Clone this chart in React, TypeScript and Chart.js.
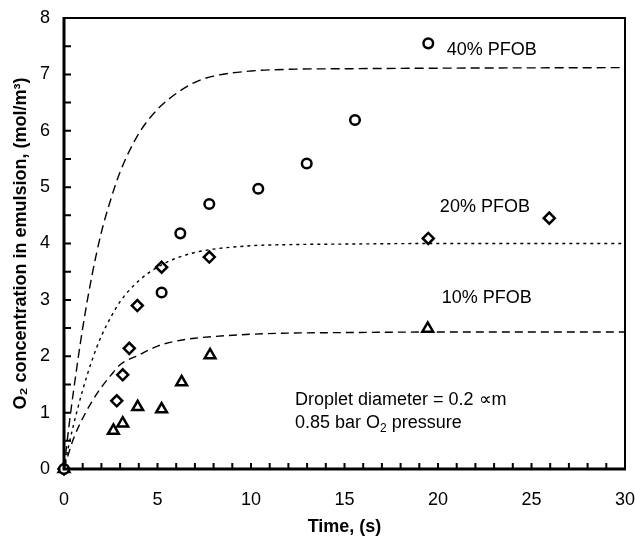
import React, { useEffect, useRef } from 'react';
import { Chart, registerables } from 'chart.js';

Chart.register(...registerables);

// Measured data (time in s, concentration in mol/m3)
const pfob40Time = [0, 5.22, 6.22, 7.77, 10.39, 12.98, 15.56, 19.48];
const pfob40Conc = [0, 3.13, 4.18, 4.70, 4.97, 5.42, 6.19, 7.55];
const pfob20Time = [0, 2.82, 3.14, 3.49, 3.92, 5.22, 7.77, 19.48, 25.95];
const pfob20Conc = [0, 1.21, 1.67, 2.14, 2.90, 3.58, 3.76, 4.09, 4.45];
const pfob10Time = [0, 2.64, 3.14, 3.94, 5.22, 6.29, 7.81, 19.45];
const pfob10Conc = [0, 0.68, 0.81, 1.10, 1.06, 1.54, 2.02, 2.49];

// Model curves
const modelTime = [0, 0.25, 0.5, 1, 1.5, 2, 2.5, 3, 4, 5, 6, 7, 8, 10, 12, 15, 20, 30];
const model40 = [0, 0.72, 1.36, 2.50, 3.44, 4.20, 4.78, 5.27, 5.95, 6.38, 6.66, 6.86, 6.97, 7.06, 7.09, 7.10, 7.11, 7.12];
const model20 = [0, 0.41, 0.77, 1.40, 1.93, 2.36, 2.69, 2.97, 3.34, 3.58, 3.74, 3.84, 3.90, 3.96, 3.98, 3.99, 4.00, 4.00];
const model10 = [0, 0.28, 0.53, 0.90, 1.20, 1.45, 1.66, 1.85, 2.02, 2.18, 2.27, 2.32, 2.35, 2.39, 2.41, 2.42, 2.43, 2.43];

const xTicks = [0, 5, 10, 15, 20, 25, 30];
const yTicks = [0, 1, 2, 3, 4, 5, 6, 7, 8];

const FONT = '"Liberation Sans", Arial, Helvetica, sans-serif';

const pts = (xs: number[], ys: number[]) => xs.map((x, i) => ({ x, y: ys[i] }));

// label anchors in data coordinates (left, baseline)
const labels = [
  { x: 20.47, y: 7.34, parts: [{ t: '40% PFOB' }] },
  { x: 20.1, y: 4.56, parts: [{ t: '20% PFOB' }] },
  { x: 20.2, y: 2.94, parts: [{ t: '10% PFOB' }] },
  { x: 12.35, y: 1.13, parts: [{ t: 'Droplet diameter = 0.2 \u221Dm' }] },
  { x: 12.35, y: 0.735, parts: [{ t: '0.85 bar O' }, { t: '2', sub: true }, { t: ' pressure' }] },
];

const framePlugin = {
  id: 'frame',
  afterDatasetsDraw(chart: any) {
    const { ctx, chartArea: a, scales } = chart;
    const xs = scales.x;
    const ys = scales.y;
    ctx.save();
    ctx.strokeStyle = '#000';
    // top & right thinner
    ctx.lineWidth = 2;
    ctx.beginPath();
    ctx.moveTo(a.left, a.top);
    ctx.lineTo(a.right, a.top);
    ctx.lineTo(a.right, a.bottom);
    ctx.stroke();
    // left & bottom thick
    ctx.lineWidth = 3;
    ctx.beginPath();
    ctx.moveTo(a.left, a.top - 1);
    ctx.lineTo(a.left, a.bottom);
    ctx.lineTo(a.right + 1, a.bottom);
    ctx.stroke();
    // inward ticks
    ctx.lineWidth = 2;
    ctx.beginPath();
    for (let v = 1; v < 30; v += 1) {
      const px = xs.getPixelForValue(v);
      ctx.moveTo(px, a.bottom);
      ctx.lineTo(px, a.bottom - 6);
    }
    for (let v = 0.5; v < 8; v += 0.5) {
      const py = ys.getPixelForValue(v);
      ctx.moveTo(a.left, py);
      ctx.lineTo(a.left + 7, py);
    }
    ctx.stroke();

    // text labels
    ctx.fillStyle = '#000';
    ctx.textBaseline = 'alphabetic';
    ctx.textAlign = 'left';
    labels.forEach((l) => {
      let px = xs.getPixelForValue(l.x);
      const py = ys.getPixelForValue(l.y);
      l.parts.forEach((p: any) => {
        if (p.sub) {
          ctx.font = `12px ${FONT}`;
          ctx.fillText(p.t, px, py + 4);
        } else {
          ctx.font = `18px ${FONT}`;
          ctx.fillText(p.t, px, py);
        }
        px += ctx.measureText(p.t).width;
      });
    });
    ctx.restore();
  },
};

export default function App() {
  const ref = useRef<HTMLCanvasElement | null>(null);
  useEffect(() => {
    document.body.style.margin = '0';
    const canvas = ref.current;
    if (!canvas) return;
    const marker = {
      backgroundColor: '#fff',
      borderColor: '#000',
      borderWidth: 2.5,
      showLine: false,
      clip: false as any,
    };
    const curve = {
      type: 'line' as const,
      borderColor: '#000',
      borderWidth: 1.4,
      pointRadius: 0,
      fill: false,
      cubicInterpolationMode: 'monotone' as const,
    };
    const chart = new Chart(canvas, {
      type: 'scatter',
      data: {
        datasets: [
          { ...curve, label: '40% model', data: pts(modelTime, model40), borderDash: [9, 5] },
          { ...curve, label: '20% model', data: pts(modelTime, model20), borderDash: [3, 4] },
          { ...curve, label: '10% model', data: pts(modelTime, model10), borderDash: [8, 5] },
          { ...marker, label: '40% PFOB', data: pts(pfob40Time, pfob40Conc), pointStyle: 'circle', pointRadius: 4.8 },
          { ...marker, label: '20% PFOB', data: pts(pfob20Time, pfob20Conc), pointStyle: 'rectRot', pointRadius: 5.5 },
          { ...marker, label: '10% PFOB', data: pts(pfob10Time, pfob10Conc), pointStyle: 'triangle', pointRadius: 6.2 },
        ] as any,
      },
      options: {
        responsive: false,
        animation: false,
        layout: { padding: { top: 18, right: 10, left: 0, bottom: 0 } },
        plugins: { legend: { display: false }, tooltip: { enabled: false } },
        scales: {
          x: {
            type: 'linear',
            min: 0,
            max: 30,
            afterFit: (s: any) => {
              s.height = 67;
              s.paddingLeft = 0;
              s.paddingRight = 0;
            },
            afterBuildTicks: (s: any) => { s.ticks = xTicks.map((v) => ({ value: v })); },
            grid: { display: false, drawTicks: false },
            border: { display: false },
            ticks: { color: '#000', font: { family: FONT, size: 18 }, padding: 20, maxRotation: 0 },
            title: {
              display: true,
              text: 'Time, (s)',
              color: '#000',
              font: { family: FONT, size: 18, weight: 'bold', lineHeight: 1 },
              padding: { top: 0, bottom: 0 },
            },
          },
          y: {
            type: 'linear',
            min: 0,
            max: 8,
            afterFit: (s: any) => {
              s.width = 64;
              s.paddingTop = 0;
              s.paddingBottom = 0;
            },
            afterBuildTicks: (s: any) => { s.ticks = yTicks.map((v) => ({ value: v })); },
            grid: { display: false, drawTicks: false },
            border: { display: false },
            ticks: { color: '#000', font: { family: FONT, size: 18 }, padding: 14 },
            title: {
              display: true,
              text: 'O\u2082 concentration in emulsion, (mol/m\u00B3)',
              color: '#000',
              font: { family: FONT, size: 18, weight: 'bold', lineHeight: 1 },
              padding: { top: 12, bottom: 0 },
            },
          },
        },
      },
      plugins: [framePlugin],
    });
    return () => chart.destroy();
  }, []);
  return (
    <div style={{ position: 'absolute', left: 0, top: 0, width: 635, height: 536, background: '#fff' }}>
      <canvas ref={ref} width={635} height={536} style={{ display: 'block' }} />
    </div>
  );
}
